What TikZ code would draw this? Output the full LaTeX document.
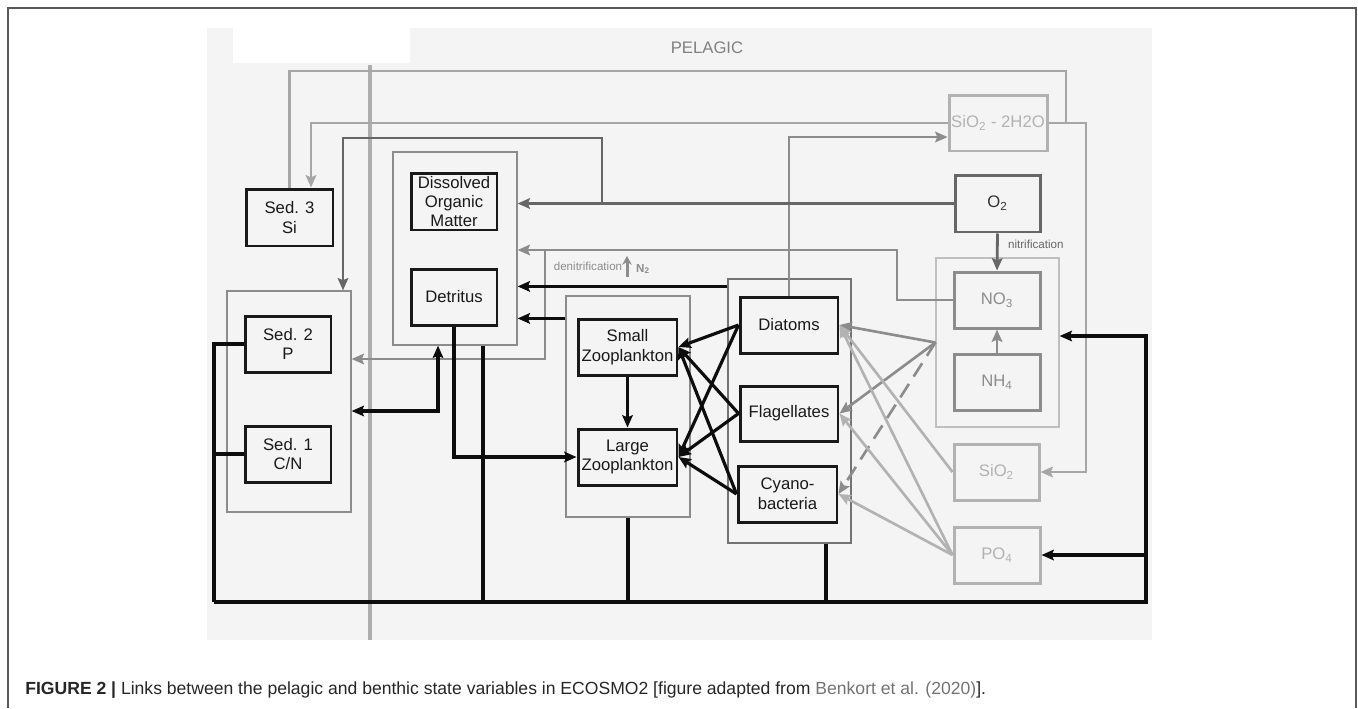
\documentclass[tikz,border=0pt]{standalone}
\usepackage{fontspec}
\setmainfont{Liberation Sans}
\usetikzlibrary{arrows.meta}
\definecolor{panelgray}{HTML}{F4F4F4}
\newcommand\bxfont{\fontsize{9.5pt}{11.3pt}\selectfont}
\newcommand\capfont{\fontsize{10pt}{12pt}\selectfont}
\begin{document}
\begin{tikzpicture}[x=0.02cm,y=-0.02cm,>={Stealth[length=7pt,width=6pt,inset=1.2pt]},
  bx/.style={draw=black!90,line width=1.7pt,align=center,font=\bxfont,text=black!90,inner sep=0pt},
  gbx/.style={bx,draw=black!60,text=black!80},
  nbx/.style={bx,draw=black!45,text=black!45},
  lbx/.style={bx,draw=black!30,text=black!30},
  cont/.style={draw=black!45,line width=0.7pt,inner sep=0pt},
  bline/.style={black!95,line width=1.8pt},
  oline/.style={black!60,line width=1.6pt},
  nline/.style={black!45,line width=1.5pt},
  lline/.style={black!30,line width=1.5pt},
  sline/.style={black!35,line width=1.5pt},
  smalltxt/.style={font=\fontsize{6.6pt}{8pt}\selectfont}]
\useasboundingbox (0,0) rectangle (1358,708);
% panel, frame, pelagic/benthic divider
\fill[panelgray] (207,28) rectangle (1152,640);
\fill[white] (233,28) rectangle (410,63);
\draw[black!65,line width=0.6pt] (8,708) -- (8,8) -- (1356,8) -- (1356,708);
\draw[black!32,line width=1.8pt] (370,65) -- (370,640);
\node[font=\bxfont,text=black!50] (pelT) at (707,48) {PELAGIC};
% containers
\node[cont,minimum width=2.48cm,minimum height=4.42cm] (benth) at (289,401.5) {};
\node[cont,minimum width=2.48cm,minimum height=3.86cm] (domC) at (455,248.5) {};
\node[cont,minimum width=2.48cm,minimum height=4.42cm] (zooC) at (628,406.5) {};
\node[cont,draw=black!55,minimum width=2.46cm,minimum height=5.28cm] (phyC) at (789.5,411) {};
\node[cont,draw=black!25,minimum width=2.46cm,minimum height=3.38cm] (nitC) at (997.5,342.5) {};
% benthic boxes
\node[bx,minimum width=1.74cm,minimum height=1.14cm] (sedS) at (289.5,217.5) {Sed. 3\\Si};
\node[bx,minimum width=1.72cm,minimum height=1.12cm] (sedP) at (288,344) {Sed. 2\\P};
\node[bx,minimum width=1.72cm,minimum height=1.12cm] (sedC) at (288,454) {Sed. 1\\C/N};
% pelagic boxes
\node[bx,font=\fontsize{9.5pt}{10.7pt}\selectfont,minimum width=1.72cm,minimum height=1.14cm] (dom) at (454,201.5) {Dissolved\\Organic\\Matter};
\node[bx,minimum width=1.72cm,minimum height=1.12cm] (det) at (454,297) {Detritus};
\node[bx,minimum width=1.98cm,minimum height=1.12cm] (zooS) at (627.5,347) {Small\\Zooplankton};
\node[bx,minimum width=1.98cm,minimum height=1.12cm] (zooL) at (627.5,457) {Large\\Zooplankton};
\node[bx,minimum width=1.96cm,minimum height=1.12cm] (dia) at (789,325) {Diatoms};
\node[bx,minimum width=1.96cm,minimum height=1.10cm] (fla) at (789,413.5) {Flagellates};
\node[bx,minimum width=1.98cm,minimum height=1.12cm] (cya) at (787.5,494) {Cyano-\\bacteria};
\node[lbx,minimum width=1.96cm,minimum height=1.12cm] (sil) at (998,123) {SiO\textsubscript{2} - 2H2O};
\node[gbx,minimum width=1.70cm,minimum height=1.14cm] (oxy) at (997.5,203.5) {O\textsubscript{2}};
\node[nbx,minimum width=1.72cm,minimum height=1.12cm] (no3) at (997,300) {NO\textsubscript{3}};
\node[nbx,minimum width=1.72cm,minimum height=1.12cm] (nh4) at (997,382) {NH\textsubscript{4}};
\node[lbx,minimum width=1.70cm,minimum height=1.12cm] (sio) at (996.5,472) {SiO\textsubscript{2}};
\node[lbx,minimum width=1.72cm,minimum height=1.12cm] (po4) at (997,555) {PO\textsubscript{4}};
% junctions
\coordinate (siJ) at (1066,123);
\coordinate (oxJ) at (602,203.5);
\coordinate (noJ) at (545,250);
\coordinate (phD) at ([yshift=-0.16cm]phyC.north west);
\coordinate (zoD) at ([yshift=-0.46cm]zooC.north west);
\coordinate (botL) at (214,602);
\coordinate (botR) at (1146,602);
% silica loop
\draw[sline] (sedS.north) |- (1066,71) -- (siJ);
\draw[sline,->] (sil.east) -- (1086,123) |- (sio.east);
\draw[sline,->] (sil.west) -| ([xshift=0.43cm]sedS.north);
\draw[nline,->] (dia.north) |- ([yshift=-0.28cm]sil.west);
% oxygen and nitrogen
\draw[oline,->] (oxy.west) -- (domC.east |- oxJ);
\draw[oline,->] (oxJ) -- (602,138) -| ([xshift=1.08cm]benth.north);
\draw[oline,->] (oxy.south) -- (no3.north) node[pos=0.3,right=2pt,smalltxt,text=black!60] (nitT) {nitrification};
\draw[nline,->] (nh4.north) -- (no3.south);
\draw[nline,->] (no3.west) -| (897,250) -- (domC.east |- noJ);
\draw[nline,->] (noJ) |- ([yshift=0.85cm]benth.east);
\node[smalltxt,text=black!45] (denT) at (588,266) {denitrification};
\coordinate (dnA) at (627,277);
\coordinate (dnB) at (627,256);
\draw[nline,line width=1.7pt,-{Stealth[length=5pt,width=5.5pt]}] (dnA) -- (dnB);
\node[smalltxt,text=black!45] (n2T) at (643,269) {\textbf{N\textsubscript{2}}};
% detritus and sediment exchange
\draw[bline,->] (phD) -- (domC.east |- phD);
\draw[bline,->] (zoD) -- (domC.east |- zoD);
\draw[bline,->] (det.south) |- (zooL.west);
\draw[bline,<->] ([xshift=-0.34cm]domC.south) |- ([yshift=-0.19cm]benth.east);
% grazing
\foreach \A in {dia,fla,cya}{\foreach \B in {zooS,zooL}{\draw[bline,->] (\A.west) -- (\B.east);}}
\draw[bline,->] (zooS.south) -- (zooL.north);
% nutrient uptake
\draw[nline,->] (nitC.west) -- (dia.east);
\draw[nline,->] (nitC.west) -- (fla.east);
\draw[nline,dashed,dash pattern=on 9pt off 5pt,->] (nitC.west) -- (cya.east);
\draw[lline,->] (sio.west) -- (dia.east);
\foreach \B in {dia,fla,cya}{\draw[lline,->] (po4.west) -- (\B.east);}
% remineralisation loop along the bottom
\draw[bline] (sedP.west) -| (botL);
\draw[bline] (sedC.west) -- (sedC.west -| botL);
\draw[bline] ([xshift=0.56cm]domC.south) -- ([xshift=0.56cm]domC.south |- botL);
\draw[bline] (zooC.south) -- (zooC.south |- botL);
\draw[bline] ([xshift=0.73cm]phyC.south) -- ([xshift=0.73cm]phyC.south |- botL);
\draw[bline,->] (botL) -- (botR) |- ([yshift=0.13cm]nitC.east);
\draw[bline,->] (botR |- po4.east) -- (po4.east);
% caption
\node[anchor=base west,font=\capfont,text=black!85,inner sep=0pt] (capT) at (25,694) {\textbf{FIGURE 2 |} Links between the pelagic and benthic state variables in ECOSMO2 [figure adapted from \textcolor{black!55}{Benkort et al. (2020)}].};
\end{tikzpicture}
\end{document}
